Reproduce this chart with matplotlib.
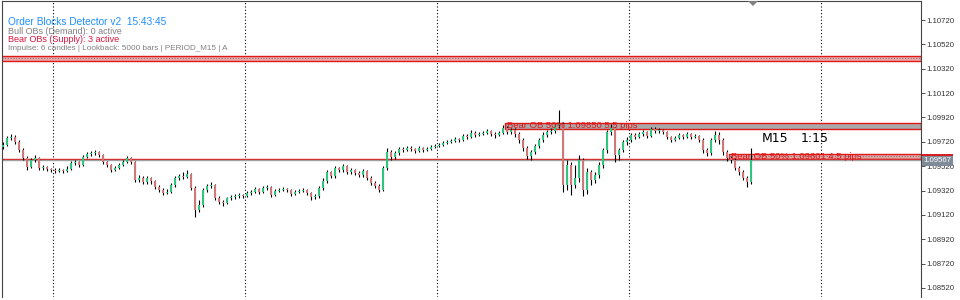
import numpy as np
import matplotlib
matplotlib.use("Agg")
import matplotlib.pyplot as plt
from matplotlib.patches import Rectangle, Polygon

# ====================================================================
# DATA (EURUSD M15)
# ====================================================================
first_open = 1.09677

close = [
    1.09694, 1.09751, 1.09759, 1.09718, 1.09653, 1.09587, 1.09513, 1.09571, 1.09587, 1.09505,
    1.09513, 1.09497, 1.09489, 1.09480, 1.09489, 1.09480, 1.09497, 1.09546, 1.09554, 1.09530,
    1.09595, 1.09620, 1.09628, 1.09636, 1.09612, 1.09554, 1.09530, 1.09489, 1.09505, 1.09530,
    1.09554, 1.09587, 1.09554, 1.09407, 1.09423, 1.09390, 1.09423, 1.09398, 1.09349, 1.09325,
    1.09300, 1.09308, 1.09366, 1.09423, 1.09439, 1.09431, 1.09456, 1.09341, 1.09160, 1.09201,
    1.09325, 1.09357, 1.09366, 1.09259, 1.09226, 1.09218, 1.09259, 1.09267, 1.09275, 1.09283,
    1.09275, 1.09300, 1.09308, 1.09333, 1.09308, 1.09341, 1.09349, 1.09283, 1.09316, 1.09325,
    1.09333, 1.09325, 1.09292, 1.09308, 1.09316, 1.09325, 1.09300, 1.09267, 1.09275, 1.09341,
    1.09398, 1.09472, 1.09439, 1.09505, 1.09489, 1.09521, 1.09472, 1.09489, 1.09464, 1.09448,
    1.09480, 1.09423, 1.09382, 1.09357, 1.09325, 1.09505, 1.09636, 1.09595, 1.09628, 1.09661,
    1.09653, 1.09669, 1.09661, 1.09645, 1.09669, 1.09653, 1.09661, 1.09677, 1.09686, 1.09694,
    1.09710, 1.09718, 1.09727, 1.09743, 1.09735, 1.09768, 1.09759, 1.09792, 1.09776, 1.09784,
    1.09792, 1.09809, 1.09784, 1.09776, 1.09792, 1.09833, 1.09801, 1.09817, 1.09784, 1.09735,
    1.09669, 1.09604, 1.09636, 1.09686, 1.09735, 1.09776, 1.09801, 1.09809, 1.09858, 1.09866,
    1.09366, 1.09530, 1.09366, 1.09423, 1.09571, 1.09325, 1.09472, 1.09407, 1.09448, 1.09530,
    1.09653, 1.09801, 1.09833, 1.09612, 1.09653, 1.09718, 1.09735, 1.09776, 1.09759, 1.09784,
    1.09801, 1.09768, 1.09825, 1.09809, 1.09817, 1.09801, 1.09759, 1.09735, 1.09751, 1.09776,
    1.09759, 1.09784, 1.09759, 1.09768, 1.09735, 1.09653, 1.09628, 1.09735, 1.09776, 1.09735,
    1.09636, 1.09587, 1.09571, 1.09505, 1.09472, 1.09423, 1.09390, 1.09567,
]

high = [
    1.09718, 1.09768, 1.09784, 1.09776, 1.09735, 1.09669, 1.09604, 1.09587, 1.09612, 1.09595,
    1.09530, 1.09521, 1.09505, 1.09505, 1.09505, 1.09497, 1.09521, 1.09563, 1.09571, 1.09563,
    1.09612, 1.09636, 1.09645, 1.09653, 1.09645, 1.09620, 1.09563, 1.09538, 1.09521, 1.09546,
    1.09571, 1.09604, 1.09595, 1.09563, 1.09448, 1.09439, 1.09439, 1.09431, 1.09407, 1.09366,
    1.09341, 1.09333, 1.09382, 1.09439, 1.09456, 1.09472, 1.09489, 1.09464, 1.09357, 1.09242,
    1.09341, 1.09374, 1.09390, 1.09374, 1.09275, 1.09242, 1.09267, 1.09283, 1.09292, 1.09300,
    1.09292, 1.09316, 1.09325, 1.09349, 1.09341, 1.09357, 1.09366, 1.09357, 1.09333, 1.09341,
    1.09349, 1.09341, 1.09333, 1.09325, 1.09333, 1.09341, 1.09333, 1.09308, 1.09292, 1.09357,
    1.09423, 1.09489, 1.09480, 1.09521, 1.09513, 1.09538, 1.09530, 1.09505, 1.09497, 1.09480,
    1.09497, 1.09489, 1.09439, 1.09398, 1.09374, 1.09521, 1.09669, 1.09653, 1.09645, 1.09677,
    1.09677, 1.09686, 1.09686, 1.09669, 1.09686, 1.09677, 1.09677, 1.09694, 1.09702, 1.09710,
    1.09727, 1.09735, 1.09743, 1.09759, 1.09751, 1.09784, 1.09784, 1.09817, 1.09809, 1.09801,
    1.09809, 1.09825, 1.09817, 1.09801, 1.09809, 1.09858, 1.09850, 1.09833, 1.09833, 1.09801,
    1.09751, 1.09686, 1.09653, 1.09702, 1.09751, 1.09801, 1.09817, 1.09833, 1.09874, 1.09981,
    1.09883, 1.09571, 1.09554, 1.09530, 1.09612, 1.09587, 1.09505, 1.09489, 1.09472, 1.09554,
    1.09669, 1.09817, 1.09866, 1.09842, 1.09669, 1.09735, 1.09759, 1.09792, 1.09792, 1.09801,
    1.09817, 1.09809, 1.09842, 1.09842, 1.09833, 1.09825, 1.09809, 1.09768, 1.09768, 1.09792,
    1.09784, 1.09801, 1.09792, 1.09784, 1.09776, 1.09751, 1.09669, 1.09751, 1.09809, 1.09801,
    1.09751, 1.09653, 1.09604, 1.09587, 1.09521, 1.09489, 1.09439, 1.09669,
]

low = [
    1.09661, 1.09686, 1.09735, 1.09702, 1.09636, 1.09571, 1.09489, 1.09505, 1.09554, 1.09489,
    1.09489, 1.09480, 1.09472, 1.09464, 1.09472, 1.09464, 1.09472, 1.09489, 1.09530, 1.09513,
    1.09521, 1.09587, 1.09604, 1.09612, 1.09595, 1.09538, 1.09513, 1.09472, 1.09480, 1.09497,
    1.09521, 1.09546, 1.09538, 1.09390, 1.09390, 1.09374, 1.09374, 1.09374, 1.09333, 1.09308,
    1.09283, 1.09292, 1.09300, 1.09349, 1.09407, 1.09415, 1.09423, 1.09325, 1.09103, 1.09144,
    1.09185, 1.09308, 1.09341, 1.09242, 1.09210, 1.09193, 1.09210, 1.09242, 1.09251, 1.09259,
    1.09259, 1.09267, 1.09283, 1.09300, 1.09292, 1.09300, 1.09325, 1.09267, 1.09275, 1.09308,
    1.09316, 1.09308, 1.09275, 1.09283, 1.09300, 1.09308, 1.09283, 1.09242, 1.09251, 1.09259,
    1.09325, 1.09382, 1.09423, 1.09423, 1.09472, 1.09472, 1.09456, 1.09456, 1.09448, 1.09431,
    1.09431, 1.09407, 1.09366, 1.09341, 1.09308, 1.09316, 1.09489, 1.09571, 1.09579, 1.09612,
    1.09636, 1.09645, 1.09645, 1.09628, 1.09636, 1.09636, 1.09645, 1.09653, 1.09669, 1.09677,
    1.09686, 1.09702, 1.09710, 1.09718, 1.09718, 1.09727, 1.09743, 1.09751, 1.09759, 1.09768,
    1.09776, 1.09784, 1.09768, 1.09751, 1.09768, 1.09784, 1.09784, 1.09784, 1.09759, 1.09710,
    1.09645, 1.09579, 1.09571, 1.09620, 1.09669, 1.09718, 1.09759, 1.09784, 1.09792, 1.09833,
    1.09308, 1.09325, 1.09283, 1.09341, 1.09390, 1.09275, 1.09292, 1.09366, 1.09382, 1.09423,
    1.09505, 1.09628, 1.09776, 1.09554, 1.09571, 1.09636, 1.09694, 1.09718, 1.09743, 1.09751,
    1.09768, 1.09751, 1.09759, 1.09792, 1.09792, 1.09784, 1.09743, 1.09718, 1.09727, 1.09743,
    1.09743, 1.09751, 1.09743, 1.09751, 1.09718, 1.09628, 1.09604, 1.09612, 1.09718, 1.09702,
    1.09612, 1.09563, 1.09546, 1.09489, 1.09448, 1.09407, 1.09349, 1.09374,
]

price_ticks = [1.08520, 1.08720, 1.08920, 1.09120, 1.09320, 1.09520,
               1.09720, 1.09920, 1.10120, 1.10320, 1.10520, 1.10720]
bid = 1.09567

# Order blocks (bear / supply zones)
ob_top = [1.10428, 1.09878, 1.09624]
ob_bottom = [1.10380, 1.09823, 1.09579]
ob_start_bar = [-2, 125.5, 181.5]
ob_label = ["", "Bear OB 50% 1.09850 5.5 pips", "Bear OB 50% 1.09601 4.5 pips"]

info_lines = ["Order Blocks Detector v2  15:43:45",
              "Bull OBs (Demand): 0 active",
              "Bear OBs (Supply): 3 active",
              "Impulse: 6 candles | Lookback: 5000 bars | PERIOD_M15 | A"]

W, H = 960, 300


def fpx(x, y):
    """pixel (from top-left) -> figure fraction"""
    return x / W, 1 - y / H


# ====================================================================
# FIGURE
# ====================================================================
fig = plt.figure(figsize=(W / 100, H / 100), dpi=100)
fig.patch.set_facecolor("white")
ax = fig.add_axes([2 / W, 3 / H, 919 / W, 296 / H])
ax.set_facecolor("white")

n = len(close)
x = np.arange(n)
o = np.array([first_open] + close[:-1])
c = np.array(close)
hi = np.array(high)
lo = np.array(low)

# --- order block boxes (under the candles) ---
xr = 229.5
fills = ["#eea9a9", "#a9a9a9", "#e2a6a6"]
for k in range(len(ob_top)):
    x0 = ob_start_bar[k]
    ax.add_patch(Rectangle((x0, ob_bottom[k]), xr - x0, ob_top[k] - ob_bottom[k],
                           facecolor=fills[k], edgecolor="#e01818", lw=1.0, zorder=1))
    if k != 1:
        mid = (ob_top[k] + ob_bottom[k]) / 2
        ax.plot([x0, xr], [mid, mid], color="#808080", lw=0.8, ls=(0, (1, 1.5)), zorder=1)

# red OB line + grey bid line across the chart
ax.axhline(ob_bottom[2], color="#e01818", lw=1.0, zorder=1)
ax.axhline(bid, color="#a0a0a0", lw=1.0, zorder=1)

# --- candles ---
bull = c >= o
ax.vlines(x, lo, hi, color="black", lw=0.8, zorder=2)
body_h = np.maximum(np.abs(c - o), 0.00002)
ax.bar(x, body_h, bottom=np.minimum(o, c), width=0.55,
       color=np.where(bull, "#30c47c", "#d07878"), edgecolor="none", zorder=3)

# --- box labels ---
for k in range(1, len(ob_top)):
    ax.text(ob_start_bar[k] + 0.4, (ob_top[k] + ob_bottom[k]) / 2, ob_label[k],
            color="#e01818", fontsize=6.8, family="Liberation Sans",
            va="center", ha="left", zorder=4)

# --- axes ---
ax.set_xlim(-0.25, xr)
ax.set_ylim(1.08446, 1.10876)
ax.set_xticks([12.5, 60.5, 108.5, 156.5, 204.5])
ax.set_xticklabels([])
ax.tick_params(axis="x", length=0)
ax.grid(axis="x", color="black", lw=0.8, ls=(0, (1, 2)))
ax.set_axisbelow(True)
ax.yaxis.tick_right()
ax.set_yticks(price_ticks)
ax.set_yticklabels(["%.5f" % p for p in price_ticks])
ax.tick_params(axis="y", direction="out", length=3, width=0.6, pad=1,
               labelsize=5.6, labelcolor="#333333", color="#333333")
for lab in ax.get_yticklabels():
    lab.set_family("Liberation Sans")
for s in ax.spines.values():
    s.set_color("#444444")
    s.set_linewidth(0.8)
ax.spines["bottom"].set_visible(False)

# --- info panel, top left ---
colors = ["#1e8fff", "#808080", "#dc143c", "#808080"]
sizes = [7.3, 6.5, 6.5, 5.9]
ys = [22, 31, 40, 48]
for t, col, sz, yy in zip(info_lines, colors, sizes, ys):
    fig.text(*fpx(8, yy), t, color=col, fontsize=sz, family="Liberation Sans",
             va="center", ha="left")

# --- timeframe / countdown label ---
fig.text(*fpx(762, 138), "M15", fontsize=9, color="black", va="center", ha="left")
fig.text(*fpx(801, 138), "1:15", fontsize=9, color="black", va="center", ha="left")

# --- price tags on the axis ---
fx0, fy0 = fpx(922, 157)
fig.patches.append(Rectangle((fx0, fy0), 31 / W, 3 / H, transform=fig.transFigure,
                             facecolor="#d42020", edgecolor="none", figure=fig))
fx0, fy0 = fpx(922, 166)
fig.patches.append(Rectangle((fx0, fy0), 31 / W, 10 / H, transform=fig.transFigure,
                             facecolor="#7f8b98", edgecolor="none", figure=fig))
fig.text(*fpx(937, 161), "%.5f" % bid, color="white", fontsize=5.6,
         family="Liberation Sans", va="center", ha="center")

# --- chart shift marker at top ---
fig.patches.append(Polygon([fpx(748, 1), fpx(758, 1), fpx(753, 6)], closed=True,
                           transform=fig.transFigure, facecolor="#808080",
                           edgecolor="none", figure=fig))

fig.savefig("out.png", dpi=100)
plt.close(fig)
